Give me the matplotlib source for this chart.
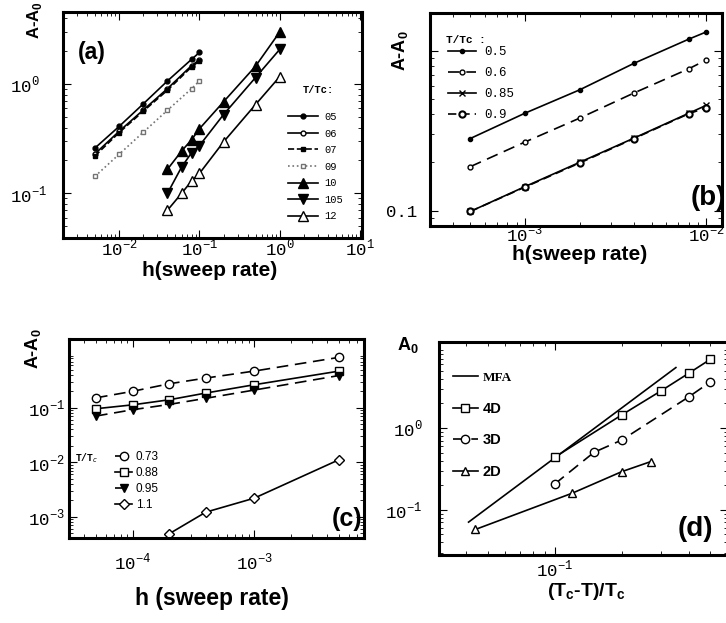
import matplotlib
matplotlib.use('Agg')
import matplotlib.pyplot as plt
from matplotlib.ticker import NullFormatter

plt.rcParams['font.family'] = ['Liberation Sans', 'DejaVu Sans']
plt.rcParams['mathtext.fontset'] = 'custom'
plt.rcParams['mathtext.rm'] = 'Liberation Mono'
plt.rcParams['mathtext.bf'] = 'Liberation Sans:bold'

W, H = 726, 623

# panel (a): A-A0 vs sweep rate
a_h1 = [5e-3, 1e-2, 2e-2, 4e-2, 8e-2, 1e-1]
a_05 = [0.26, 0.41, 0.66, 1.07, 1.69, 1.95]
a_06 = [0.23, 0.37, 0.58, 0.91, 1.48, 1.67]
a_07 = [0.22, 0.36, 0.565, 0.88, 1.44, 1.63]
a_09 = [0.143, 0.228, 0.363, 0.577, 0.91, 1.07]
a_h2 = [0.04, 0.06, 0.08, 0.1, 0.2, 0.5, 1.0]
a_10 = [0.166, 0.244, 0.31, 0.39, 0.69, 1.46, 3.0]
a_105 = [0.10, 0.174, 0.236, 0.273, 0.527, 1.15, 2.08]
a_12 = [0.07, 0.10, 0.13, 0.152, 0.296, 0.65, 1.17]

# panel (b)
b_h = [5e-4, 1e-3, 2e-3, 4e-3, 8e-3, 1e-2]
b_05 = [0.282, 0.406, 0.568, 0.834, 1.18, 1.31]
b_06 = [0.188, 0.268, 0.378, 0.544, 0.77, 0.875]
b_085 = [0.0986, 0.141, 0.2, 0.284, 0.406, 0.455]
b_09 = [0.0986, 0.140, 0.198, 0.282, 0.403, 0.44]

# panel (c)
c_h = [5e-5, 1e-4, 2e-4, 4e-4, 1e-3, 5e-3]
c_073 = [0.152, 0.2, 0.275, 0.35, 0.47, 0.84]
c_088 = [0.096, 0.113, 0.14, 0.186, 0.264, 0.47]
c_095 = [0.0705, 0.092, 0.115, 0.149, 0.211, 0.39]
c_h11 = [2e-4, 4e-4, 1e-3, 5e-3]
c_11 = [4.9e-4, 1.22e-3, 2.2e-3, 0.0112]

# panel (d): A0 vs reduced temperature
d_t4 = [0.1, 0.2, 0.3, 0.4, 0.5]
d_4D = [0.44, 1.45, 2.85, 4.69, 6.94]
d_t3 = [0.1, 0.15, 0.2, 0.4, 0.5]
d_3D = [0.207, 0.505, 0.714, 2.41, 3.67]
d_t2 = [0.044, 0.12, 0.2, 0.27]
d_2D = [0.0575, 0.16, 0.293, 0.389]
d_tmfa = [0.041, 0.35]
d_mfa = [0.0707, 5.5]


def box(l, t, r, b):
    return [l / W, 1 - b / H, (r - l) / W, (b - t) / H]


def fx(px):
    return px / W


def fy(py):
    return 1 - py / H


def style(ax):
    ax.set_xscale('log')
    ax.set_yscale('log')
    for s in ax.spines.values():
        s.set_linewidth(2.2)
    ax.tick_params(which='both', direction='in', top=True, right=True,
                   labelsize=12.5, pad=3)
    ax.tick_params(which='major', length=6, width=0.8)
    ax.tick_params(which='minor', length=3, width=0.6)
    ax.xaxis.set_minor_formatter(NullFormatter())
    ax.yaxis.set_minor_formatter(NullFormatter())


def dec(p):
    return r'$10^{%d}$' % p


fig = plt.figure(figsize=(W / 100, H / 100), dpi=100)

# ---- (a)
ax = fig.add_axes(box(63, 12, 362, 238))
style(ax)
kw = dict(color='black', lw=1.2)
ax.plot(a_h1, a_05, '-o', ms=3.5, label='05', **kw)
ax.plot(a_h1, a_06, '-o', ms=3.5, mfc='white', label='06', **kw)
ax.plot(a_h1, a_07, '--s', ms=3.5, label='07', **kw)
ax.plot(a_h1, a_09, ':s', ms=3.5, mfc='white', color='0.45', lw=1.2, label='09')
ax.plot(a_h2, a_10, '-^', ms=6.5, label='10', **kw)
ax.plot(a_h2, a_105, '-v', ms=6.5, label='105', **kw)
ax.plot(a_h2, a_12, '-^', ms=6.5, mfc='white', label='12', **kw)
ax.set_xlim(2e-3, 10.6)
ax.set_ylim(0.039, 4.58)
ax.set_xticks([1e-2, 1e-1, 1e0, 1e1], [dec(-2), dec(-1), dec(0), dec(1)])
ax.set_yticks([1e-1, 1e0], [dec(-1), dec(0)])
for t in ax.get_yticklabels():
    t.set_ha('left')
ax.tick_params(axis='y', which='major', pad=38)
ax.tick_params(axis='x', which='major', pad=0)
ax.legend(loc='upper left', bbox_to_anchor=((288 - 63) / 299, (238 - 112) / 226),
          frameon=False, prop={'family': 'Liberation Mono', 'size': 7.5},
          handlelength=2.9, handletextpad=0.6, labelspacing=0.63,
          borderpad=0, borderaxespad=0)
ax.text((318 - 63) / 299, (238 - 90) / 226, 'T/Tc:', transform=ax.transAxes,
        ha='center', va='center', family='Liberation Mono', fontsize=7.5,
        fontweight='bold')
ax.text((92 - 63) / 299, (238 - 53) / 226, '(a)', transform=ax.transAxes,
        ha='center', va='center', fontsize=16.5, fontweight='bold')
fig.text(fx(210), fy(271), 'h(sweep rate)', ha='center', va='center',
         fontsize=15, fontweight='bold')
fig.text(fx(35), fy(20), r'A-A$_\mathbf{0}$', ha='center', va='center',
         rotation=90, fontsize=12, fontweight='bold')

# ---- (b)
ax = fig.add_axes(box(430, 13, 722, 226))
style(ax)
ax.plot(b_h, b_05, '-o', ms=3, label='0.5', **kw)
ax.plot(b_h, b_06, '-o', ms=3.5, mfc='white', dashes=(7, 4), label='0.6', **kw)
ax.plot(b_h, b_085, '-x', ms=4, label='0.85', **kw)
ax.plot(b_h, b_09, '-o', ms=4.5, mfc='white', mew=1.5, dashes=(5, 3),
        label='0.9', **kw)
ax.set_xlim(3e-4, 1.22e-2)
ax.set_ylim(0.080, 1.72)
ax.set_xticks([1e-3, 1e-2], [dec(-3), dec(-2)])
ax.set_yticks([0.1, 1.0], ['0.1', ''])
for t in ax.get_yticklabels():
    t.set_family('Liberation Mono')
ax.tick_params(axis='y', which='major', pad=9)
ax.tick_params(axis='x', which='major', pad=-2)
ax.legend(loc='upper left', bbox_to_anchor=((448 - 430) / 292, (226 - 46) / 213),
          frameon=False, prop={'family': 'Liberation Mono', 'size': 9},
          handlelength=2.2, handletextpad=0.7, labelspacing=0.72,
          borderpad=0, borderaxespad=0)
ax.text((446 - 430) / 292, (226 - 40) / 213, 'T/Tc :', transform=ax.transAxes,
        ha='left', va='center', family='Liberation Mono', fontsize=8,
        fontweight='bold')
ax.text((708 - 430) / 292, (226 - 198) / 213, '(b)', transform=ax.transAxes,
        ha='center', va='center', fontsize=20, fontweight='bold')
fig.text(fx(580), fy(255), 'h(sweep rate)', ha='center', va='center',
         fontsize=15, fontweight='bold')
fig.text(fx(400), fy(51), r'A-A$_\mathbf{0}$', ha='center', va='center',
         rotation=90, fontsize=13, fontweight='bold')

# ---- (c)
ax = fig.add_axes(box(69, 339, 364, 538))
style(ax)
ax.plot(c_h, c_073, '-o', ms=6, mfc='white', dashes=(7, 4), label='0.73', **kw)
ax.plot(c_h, c_088, '-s', ms=6, mfc='white', label='0.88', **kw)
ax.plot(c_h, c_095, '-v', ms=5.5, dashes=(7, 4), label='0.95', **kw)
ax.plot(c_h11, c_11, '-D', ms=5, mfc='white', label='1.1', **kw)
ax.set_xlim(3e-5, 8e-3)
ax.set_ylim(4.1e-4, 1.82)
ax.set_xticks([1e-4, 1e-3], [dec(-4), dec(-3)])
ax.set_yticks([1e-3, 1e-2, 1e-1], [dec(-3), dec(-2), dec(-1)])
ax.tick_params(axis='x', which='major', pad=10)
ax.legend(loc='upper left', bbox_to_anchor=((115 - 69) / 295, (538 - 451) / 199),
          frameon=False, prop={'size': 8.5},
          handlelength=1.45, handletextpad=0.3, labelspacing=0.35,
          borderpad=0, borderaxespad=0)
ax.text((87 - 69) / 295, (538 - 458) / 199, r'T/T$_c$', transform=ax.transAxes,
        ha='center', va='center', family='Liberation Mono', fontsize=7,
        fontweight='bold')
ax.text((347 - 69) / 295, (538 - 519) / 199, '(c)', transform=ax.transAxes,
        ha='center', va='center', fontsize=18, fontweight='bold')
fig.text(fx(212), fy(599), 'h (sweep rate)', ha='center', va='center',
         fontsize=16.5, fontweight='bold')
fig.text(fx(33), fy(349), r'A-A$_\mathbf{0}$', ha='center', va='center',
         rotation=90, fontsize=13, fontweight='bold')

# ---- (d)
ax = fig.add_axes(box(439, 342, 728, 555))
style(ax)
ax.plot(d_tmfa, d_mfa, '-', label='MFA', **kw)
ax.plot(d_t4, d_4D, '-s', ms=6, mfc='white', label='4D', **kw)
ax.plot(d_t3, d_3D, '-o', ms=6, mfc='white', dashes=(7, 4), label='3D', **kw)
ax.plot(d_t2, d_2D, '-^', ms=6, mfc='white', label='2D', **kw)
ax.set_xlim(0.0302, 0.6)
ax.set_ylim(0.028, 11.3)
ax.set_xticks([1e-1], [dec(-1)])
ax.set_yticks([1e-1, 1e0], [dec(-1), dec(0)])
ax.tick_params(axis='x', which='major', pad=3)
ax.tick_params(axis='y', which='major', pad=12)
leg = ax.legend(loc='upper left', bbox_to_anchor=((453 - 439) / 289, (555 - 371) / 213),
                frameon=False, prop={'size': 10.5, 'weight': 'bold'},
                handlelength=1.7, handletextpad=0.35, labelspacing=1.2,
                borderpad=0, borderaxespad=0)
leg.get_texts()[0].set_family('Liberation Serif')
leg.get_texts()[0].set_fontsize(9.5)
ax.text((695 - 439) / 289, (555 - 529) / 213, '(d)', transform=ax.transAxes,
        ha='center', va='center', fontsize=20, fontweight='bold')
fig.text(fx(586), fy(591), r'(T$_\mathbf{c}$-T)/T$_\mathbf{c}$', ha='center',
         va='center', fontsize=14, fontweight='bold')
fig.text(fx(408), fy(345), r'A$_\mathbf{0}$', ha='center', va='center',
         fontsize=13, fontweight='bold')

fig.savefig('out.png', dpi=100)
